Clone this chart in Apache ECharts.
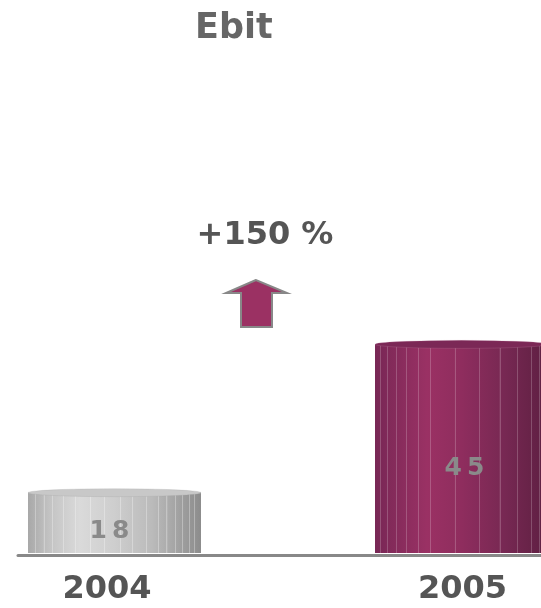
<!DOCTYPE html>
<html><head><meta charset="utf-8">
<script src="https://cdn.jsdelivr.net/npm/echarts@6/dist/echarts.min.js"></script>
<style>html,body{margin:0;padding:0;background:#fff}#c{width:541px;height:608px}</style>
</head><body><div id="c"></div>
<script>
const categories = ['2004', '2005'];
const ebitValues = [18, 45];
const changeLabel = '+150 %';
const titleText = 'Ebit';

function hexToRgb(h){h=h.replace('#','');return [parseInt(h.substr(0,2),16),parseInt(h.substr(2,2),16),parseInt(h.substr(4,2),16)];}
function rgbStr(c){return 'rgb('+c.map(Math.round).join(',')+')';}
function colorAt(stops,p){
  for(let i=0;i<stops.length-1;i++){
    const a=stops[i],b=stops[i+1];
    if(p>=a[0]&&p<=b[0]){const t=(p-a[0])/(b[0]-a[0]||1);const ca=hexToRgb(a[1]),cb=hexToRgb(b[1]);return ca.map((v,k)=>v+(cb[k]-v)*t);}
  }
  return hexToRgb(stops[stops.length-1][1]);
}
function striped(base,stripes,lighten){
  const w=0.006;
  const all=[];
  base.forEach(s=>all.push({p:s[0],c:hexToRgb(s[1])}));
  stripes.forEach(p=>{
    const c0=colorAt(base,p);const cl=c0.map(v=>v+(255-v)*lighten);
    all.push({p:p-0.0005,c:c0});all.push({p:p,c:cl});all.push({p:p+w,c:cl});all.push({p:p+w+0.0005,c:colorAt(base,p+w+0.0005)});
  });
  all.sort((a,b)=>a.p-b.p);
  return {type:'linear',x:0,y:0,x2:1,y2:0,colorStops:all.map(s=>({offset:Math.max(0,Math.min(1,s.p)),color:rgbStr(s.c)}))};
}
const grayBase=[[0,'#a8a8a8'],[0.12,'#c2c2c2'],[0.3,'#dadada'],[0.5,'#cecece'],[0.72,'#bababa'],[1,'#8c8c8c']];
const purpleBase=[[0,'#782755'],[0.3,'#9a3164'],[0.5,'#8f2d5e'],[0.75,'#772853'],[1,'#5e1f41']];
const grayStripes=[0.04,0.09,0.14,0.2,0.27,0.36,0.44,0.53,0.6,0.68,0.75,0.8,0.85,0.89,0.93,0.96];
const purpleStripes=[0.03,0.07,0.12,0.18,0.25,0.32,0.46,0.6,0.72,0.82,0.9,0.95];
const barFills=[striped(grayBase,grayStripes,0.3),striped(purpleBase,purpleStripes,0.2)];
const topFills=['#c8c8c8','#7b2856'];
const topBorders=['#9a9a9a','#c58aa8'];

const chart=echarts.init(document.getElementById('c'),null,{renderer:'canvas'});
const labelFont={fontFamily:'DejaVu Sans',fontWeight:'bold'};
const axisFont={fontFamily:'DejaVu Sans',fontWeight:'bold',fontSize:32,color:'#555'};
chart.setOption({
  animation:false,
  backgroundColor:'#fff',
  title:{text:titleText,left:190,top:6,textStyle:{fontFamily:'DejaVu Sans',fontWeight:'bold',fontSize:35,color:'#666'}},
  grid:[
    {left:-59,right:-94,top:152,bottom:55,outerBoundsMode:'none',containLabel:false},
    {left:18,right:0,top:152,bottom:53,outerBoundsMode:'none',containLabel:false}
  ],
  xAxis:[
    {type:'category',data:categories,gridIndex:0,axisLine:{show:false},axisTick:{show:false},
     axisLabel:{margin:21,...axisFont,
       formatter:(v,i)=>i===0?'{a|'+v+'}':'{b|'+v+'}',
       rich:{a:{...axisFont,padding:[0,15,0,0]},b:{...axisFont,padding:[0,0,0,2]}}}},
    {type:'category',data:[''],gridIndex:1,axisLine:{show:true,lineStyle:{color:'#888',width:3}},axisTick:{show:false},axisLabel:{show:false}}
  ],
  yAxis:[
    {type:'value',min:7,max:80,gridIndex:0,show:false},
    {type:'value',gridIndex:1,show:false}
  ],
  series:[
    {type:'bar',xAxisIndex:0,yAxisIndex:0,barWidth:173,z:2,
     data:ebitValues.map((v,i)=>({value:v,itemStyle:{color:barFills[i]}})),
     label:{show:true,position:'inside',...labelFont,fontSize:25,color:'#8a8a8a',
       formatter:(p)=>String(p.value).split('').join('\u2009')},
     labelLayout:(p)=>({dy:p.dataIndex===0?9:20,dx:p.dataIndex===0?-5:3})},
    {type:'pictorialBar',xAxisIndex:0,yAxisIndex:0,symbol:'circle',symbolSize:[173,8],symbolPosition:'end',symbolOffset:[0,'-50%'],z:3,
     data:ebitValues.map((v,i)=>({value:v,itemStyle:{color:topFills[i],borderColor:topBorders[i],borderWidth:1}}))}
  ],
  graphic:[
    {type:'text',x:265,y:236,style:{text:changeLabel,fontFamily:'DejaVu Sans',fontWeight:'bold',fontSize:32,fill:'#555',align:'center',verticalAlign:'middle'}},
    {type:'polygon',shape:{points:[[256,280],[226,293],[241,293],[241,327],[272,327],[272,293],[287,293]]},style:{fill:'#9b3163',stroke:'#888',lineWidth:2}}
  ]
});
</script></body></html>
